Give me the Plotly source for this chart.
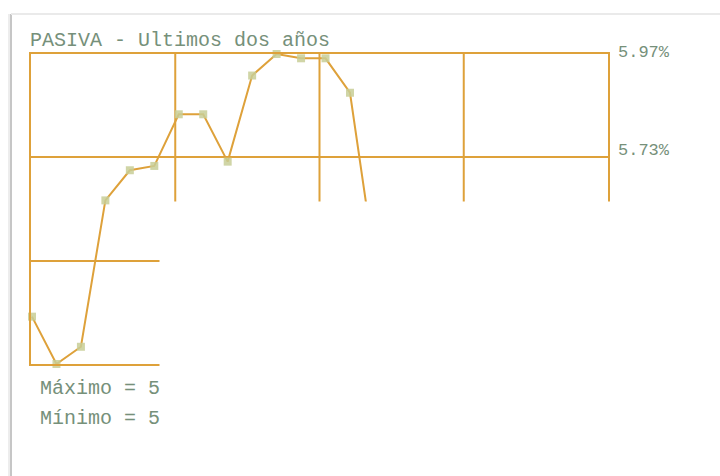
import plotly.graph_objects as go

# ---- data ----
period_index = [0, 1, 2, 3, 4, 5, 6, 7, 8, 9, 10, 11, 12, 13, 14]
rate_values = [5.36, 5.25, 5.29, 5.63, 5.70, 5.71, 5.83, 5.83, 5.72, 5.92, 5.97, 5.96, 5.96, 5.88, 5.49]
grid_values = [5.97, 5.73, 5.49, 5.25]
visible_tick_labels = ["5.97%", "5.73%"]
title_text = "PASIVA - Ultimos dos años"
max_text = "Máximo = 5"
min_text = "Mínimo = 5"

W, H = 720, 476
L, R, T, B = 31, 608, 54, 364
GOLD = "#dea13a"
TXT = "#76907a"
FONT = "Liberation Mono"


def px_x(p):
    return (p - L) / (R - L)


def px_y(p):
    return (B - p) / (B - T)


fig = go.Figure()
fig.add_trace(go.Scatter(
    x=period_index, y=rate_values, mode="lines+markers",
    line=dict(color=GOLD, width=2),
    marker=dict(symbol="square", size=8, color="rgba(200,206,150,0.85)", line=dict(width=0)),
    cliponaxis=False, showlegend=False, hoverinfo="skip",
))

step = 24.46
x0 = (L - 32) / step
x1 = (R - 32) / step

shapes = []
# card edges (shadow)
shapes.append(dict(type="line", xref="paper", yref="paper", x0=px_x(11), x1=px_x(11),
                   y0=px_y(14), y1=px_y(500), line=dict(color="#c6c6c6", width=2), layer="below"))
shapes.append(dict(type="line", xref="paper", yref="paper", x0=px_x(9), x1=px_x(9),
                   y0=px_y(14), y1=px_y(500), line=dict(color="#ededed", width=2), layer="below"))
shapes.append(dict(type="line", xref="paper", yref="paper", x0=px_x(11), x1=px_x(740),
                   y0=px_y(14), y1=px_y(14), line=dict(color="#eaeaea", width=2), layer="below"))
# vertical grid lines
for f in (0.25, 0.5, 0.75):
    shapes.append(dict(type="line", xref="paper", yref="paper", x0=f, x1=f, y0=0, y1=1,
                       line=dict(color=GOLD, width=2), layer="below"))
# white occluding panel
shapes.append(dict(type="rect", xref="paper", yref="paper", x0=px_x(159.5), x1=px_x(740),
                   y0=px_y(201.5), y1=px_y(520), fillcolor="white", line=dict(width=0), layer="above"))

annotations = [
    dict(text=title_text, xref="paper", yref="paper", x=px_x(28), y=px_y(41),
         xanchor="left", yanchor="middle", showarrow=False, font=dict(family=FONT, size=20, color=TXT)),
    dict(text=max_text, xref="paper", yref="paper", x=px_x(38), y=px_y(388),
         xanchor="left", yanchor="middle", showarrow=False, font=dict(family=FONT, size=20, color=TXT)),
    dict(text=min_text, xref="paper", yref="paper", x=px_x(38), y=px_y(418),
         xanchor="left", yanchor="middle", showarrow=False, font=dict(family=FONT, size=20, color=TXT)),
]
label_y_px = [52, 150]
for lab, ly in zip(visible_tick_labels, label_y_px):
    annotations.append(dict(text=lab, xref="paper", yref="paper", x=px_x(616), y=px_y(ly),
                            xanchor="left", yanchor="middle", showarrow=False,
                            font=dict(family=FONT, size=17, color=TXT)))

fig.update_layout(
    width=W, height=H,
    margin=dict(l=L, r=W - R, t=T, b=H - B, pad=0),
    paper_bgcolor="white", plot_bgcolor="white",
    shapes=shapes, annotations=annotations,
    xaxis=dict(range=[x0, x1], showgrid=False, zeroline=False, showticklabels=False,
               showline=True, mirror=True, linecolor=GOLD, linewidth=2, ticks=""),
    yaxis=dict(range=[grid_values[-1], grid_values[0]], tickvals=grid_values, showticklabels=False,
               showgrid=True, gridcolor=GOLD, gridwidth=2, zeroline=False,
               showline=True, mirror=True, linecolor=GOLD, linewidth=2, ticks=""),
)

fig.write_html("out.html", config={"displayModeBar": False},
               post_script="document.body.style.margin='0';")
